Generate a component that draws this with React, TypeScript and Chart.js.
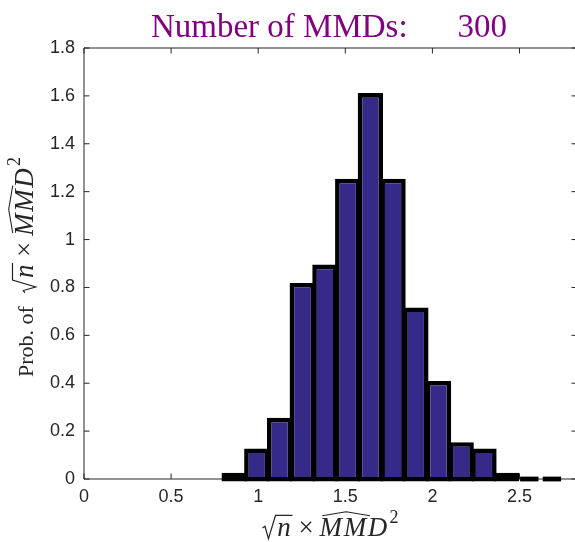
import React, { useEffect, useRef } from "react";
import { Chart, registerables } from "chart.js";

Chart.register(...registerables);

// ---- data ----
const binCenters = [0.862, 0.992, 1.123, 1.253, 1.383, 1.514, 1.644, 1.774, 1.905, 2.035, 2.165, 2.296, 2.426, 2.556, 2.686];
const probDensity = [0.0256, 0.1279, 0.2558, 0.8186, 0.8954, 1.2535, 1.6117, 1.2535, 0.7163, 0.4093, 0.1535, 0.1279, 0.0256, 0, 0];
const xTickValues = [0, 0.5, 1, 1.5, 2, 2.5];
const xTickLabels = ["0", "0.5", "1", "1.5", "2", "2.5"];
const yTickValues = [0, 0.2, 0.4, 0.6, 0.8, 1, 1.2, 1.4, 1.6, 1.8];
const yTickLabels = ["0", "0.2", "0.4", "0.6", "0.8", "1", "1.2", "1.4", "1.6", "1.8"];
const titleLeft = "Number of MMDs:";
const titleRight = "300";
const yLabelPrefix = "Prob. of";
const xMin = 0;
const xMax = 2.83;
const yMin = 0;
const yMax = 1.8;

const SERIF = '"Liberation Serif", "Times New Roman", serif';
const SANS = '"Liberation Sans", Arial, Helvetica, sans-serif';
const AXIS_COLOR = "#262626";

type Item = { text: string; font: string; x: number; dy: number };

function drawMathLabel(
  ctx: CanvasRenderingContext2D,
  cx: number,
  by: number,
  rotate: boolean,
  prefix: string,
  T: number,
  S: number
) {
  const items: Item[] = [];
  let x = 0;
  const add = (text: string, font: string, dy = 0) => {
    ctx.font = font;
    const w = ctx.measureText(text).width;
    items.push({ text, font, x, dy });
    const start = x;
    x += w;
    return { start, w };
  };
  const up = `${T}px ${SERIF}`;
  const mUp = `${S}px ${SERIF}`;
  const mIt = `italic ${S}px ${SERIF}`;
  const sup = `${Math.round(S * 0.68)}px ${SERIF}`;

  if (prefix) {
    add(prefix, up);
    x += T * 0.6;
  }
  const radStart = x;
  x += S * 0.55;
  add("n", mIt);
  const radEnd = x + S * 0.06;
  x = radEnd + S * 0.22;
  add("\u00d7", mUp);
  x += S * 0.22;
  const m1 = add("M", mIt);
  x += S * 0.06;
  const m2 = add("M", mIt);
  x += S * 0.06;
  add("D", mIt);
  x += S * 0.08;
  add("2", sup, -S * 0.48);
  const total = x;

  ctx.save();
  ctx.translate(cx, by);
  if (rotate) ctx.rotate(-Math.PI / 2);
  const x0 = -total / 2;
  ctx.fillStyle = AXIS_COLOR;
  ctx.strokeStyle = AXIS_COLOR;
  ctx.textBaseline = "alphabetic";
  ctx.textAlign = "left";
  for (const it of items) {
    ctx.font = it.font;
    ctx.fillText(it.text, x0 + it.x, it.dy);
  }
  // radical sign with vinculum
  const rx = x0 + radStart;
  ctx.lineJoin = "miter";
  ctx.lineCap = "butt";
  ctx.lineWidth = S * 0.045;
  ctx.beginPath();
  ctx.moveTo(rx, -S * 0.3);
  ctx.lineTo(rx + S * 0.09, -S * 0.36);
  ctx.lineTo(rx + S * 0.22, S * 0.1);
  ctx.lineTo(rx + S * 0.48, -S * 0.76);
  ctx.lineTo(x0 + radEnd, -S * 0.76);
  ctx.stroke();
  // wide hat over MM
  const hx0 = x0 + m1.start + S * 0.1;
  const hx1 = x0 + m2.start + m2.w + S * 0.14;
  ctx.lineWidth = S * 0.04;
  ctx.lineJoin = "round";
  ctx.beginPath();
  ctx.moveTo(hx0, -S * 0.75);
  ctx.lineTo((hx0 + hx1) / 2, -S * 0.9);
  ctx.lineTo(hx1, -S * 0.75);
  ctx.stroke();
  ctx.restore();
}

const framePlugin = {
  id: "matlabFrame",
  beforeDatasetsDraw(chart: any) {
    const { ctx, chartArea } = chart;
    const { left, right, top, bottom } = chartArea;
    const xs = chart.scales.x;
    const ys = chart.scales.y;
    const tl = 5.5;
    ctx.save();
    ctx.strokeStyle = AXIS_COLOR;
    ctx.lineWidth = 1;
    ctx.beginPath();
    ctx.rect(left, top, right - left, bottom - top);
    for (const v of xTickValues) {
      const px = xs.getPixelForValue(v);
      ctx.moveTo(px, bottom);
      ctx.lineTo(px, bottom - tl);
      ctx.moveTo(px, top);
      ctx.lineTo(px, top + tl);
    }
    for (const v of yTickValues) {
      const py = ys.getPixelForValue(v);
      ctx.moveTo(left, py);
      ctx.lineTo(left + tl, py);
      ctx.moveTo(right, py);
      ctx.lineTo(right - tl, py);
    }
    ctx.stroke();
    ctx.restore();
  },
};

const textPlugin = {
  id: "matlabTexts",
  afterDraw(chart: any) {
    const { ctx, chartArea } = chart;
    const cxArea = (chartArea.left + chartArea.right) / 2;
    ctx.save();
    // title
    ctx.font = `33px ${SERIF}`;
    ctx.fillStyle = "#800080";
    ctx.textBaseline = "alphabetic";
    ctx.textAlign = "left";
    const w1 = ctx.measureText(titleLeft).width;
    const w2 = ctx.measureText(titleRight).width;
    const gap = 50;
    const tot = w1 + gap + w2;
    const tx = cxArea - 1.5 - tot / 2;
    ctx.fillText(titleLeft, tx, 36.5);
    ctx.fillText(titleRight, tx + w1 + gap, 36.5);
    ctx.restore();
    // axis labels
    drawMathLabel(ctx, cxArea, 536, false, "", 22, 27);
    drawMathLabel(ctx, 33, 267, true, yLabelPrefix, 22, 27);
  },
};

export default function App() {
  const ref = useRef<HTMLCanvasElement | null>(null);
  useEffect(() => {
    document.body.style.margin = "0";
    const canvas = ref.current;
    if (!canvas) return;
    const chart = new Chart(canvas, {
      type: "bar",
      data: {
        datasets: [
          {
            label: "histogram",
            data: binCenters.map((x, i) => ({ x, y: probDensity[i] > 0 ? probDensity[i] : null })),
            backgroundColor: "#352A87",
            borderColor: "#000000",
            borderWidth: 4.6,
            borderSkipped: false,
            inflateAmount: 0,
            base: -0.0105,
            barPercentage: 1.12,
            categoryPercentage: 1,
            grouped: false,
            clip: false,
          } as any,
          {
            label: "empty bins",
            data: binCenters.map((x, i) => ({ x, y: probDensity[i] === 0 ? 0 : null })),
            backgroundColor: "#000000",
            borderWidth: 0,
            inflateAmount: 2.4,
            barPercentage: 0.6,
            categoryPercentage: 1,
            grouped: false,
            clip: false,
          } as any,
        ],
      },
      options: {
        responsive: false,
        animation: false,
        devicePixelRatio: 1,
        events: [],
        layout: { padding: { left: 0, top: 48, right: 23, bottom: 0 } },
        plugins: {
          legend: { display: false },
          title: { display: false },
          tooltip: { enabled: false },
        },
        scales: {
          x: {
            type: "linear",
            position: "bottom",
            min: xMin,
            max: xMax,
            offset: false,
            grid: { display: false, drawTicks: false },
            border: { display: false },
            ticks: {
              padding: 7,
              color: AXIS_COLOR,
              font: { family: SANS, size: 18 },
              maxRotation: 0,
              autoSkip: false,
              callback: (_v: any, i: number) => xTickLabels[i],
            },
            afterBuildTicks: (s: any) => {
              s.ticks = xTickValues.map((v) => ({ value: v }));
            },
            afterFit: (s: any) => {
              s.height = 63;
            },
          },
          y: {
            type: "linear",
            position: "left",
            min: yMin,
            max: yMax,
            grid: { display: false, drawTicks: false },
            border: { display: false },
            ticks: {
              padding: 9,
              color: AXIS_COLOR,
              font: { family: SANS, size: 18 },
              autoSkip: false,
              callback: (_v: any, i: number) => yTickLabels[i],
            },
            afterBuildTicks: (s: any) => {
              s.ticks = yTickValues.map((v) => ({ value: v }));
            },
            afterFit: (s: any) => {
              s.width = 84;
            },
          },
        },
      } as any,
      plugins: [framePlugin, textPlugin],
    });
    return () => chart.destroy();
  }, []);

  return (
    <div
      style={{
        position: "fixed",
        left: 0,
        top: 0,
        width: 575,
        height: 542,
        overflow: "hidden",
        background: "#ffffff",
      }}
    >
      <canvas ref={ref} width={600} height={542} style={{ display: "block", width: 600, height: 542 }} />
    </div>
  );
}
